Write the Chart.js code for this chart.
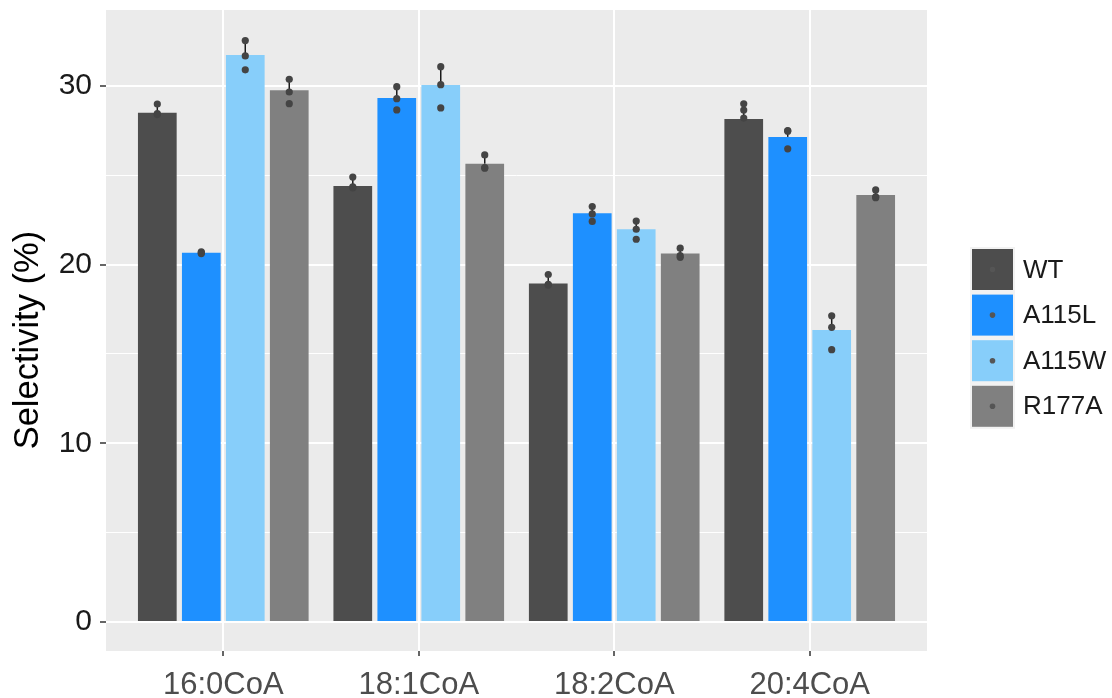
<!DOCTYPE html>
<html lang="en">
<head>
<meta charset="UTF-8">
<title>Selectivity</title>
<style>
  body {
    margin: 0;
    background: #fff;
  }
  #wrap {
    position: relative;
    width: 1112px;
    height: 698px;
  }
</style>
<script src="https://cdn.jsdelivr.net/npm/chart.js@4.4.1/dist/chart.umd.min.js"></script>
</head>
<body>
<div id="wrap">
  <canvas id="selChart" width="1112" height="698"></canvas>
</div>

<script>
// categories and groups
const categories = ['16:0CoA', '18:1CoA', '18:2CoA', '20:4CoA'];
const groups = ['WT', 'A115L', 'A115W', 'R177A'];
const colors = ['#4d4d4d', '#1e90ff', '#87cefa', '#808080'];

// bar heights (mean selectivity, %)
const wtMean    = [28.50, 24.40, 18.95, 28.15];
const a115lMean = [20.66, 29.33, 22.87, 27.15];
const a115wMean = [31.73, 30.05, 21.98, 16.34];
const r177aMean = [29.76, 25.65, 20.62, 23.90];

// error bar (upper part, sd)
const wtSd    = [0.49, 0.50, 0.50, 0.85];
const a115lSd = [0.06, 0.63, 0.38, 0.35];
const a115wSd = [0.81, 1.03, 0.46, 0.80];
const r177aSd = [0.61, 0.49, 0.30, 0.28];

// replicate points (WT ones inside the dark bar are hard to see)
const wtReps    = [[28.99, 28.45, 28.40], [24.90, 24.35, 24.30], [19.45, 18.90, 18.85], [29.00, 28.65, 28.20]];
const a115lReps = [[20.72, 20.66, 20.62], [29.96, 29.29, 28.66], [23.25, 22.84, 22.42], [27.50, 27.47, 26.48]];
const a115wReps = [[32.54, 31.68, 30.90], [31.08, 30.07, 28.77], [22.44, 21.98, 21.42], [17.14, 16.49, 15.24]];
const r177aReps = [[30.37, 29.66, 29.01], [26.14, 25.43, 25.40], [20.92, 20.41, 20.50], [24.18, 23.80, 23.75]];

// y axis ticks
const yMajor = [0, 10, 20, 30];
const yMinor = [5, 15, 25];

const means = [wtMean, a115lMean, a115wMean, r177aMean];
const sds = [wtSd, a115lSd, a115wSd, r177aSd];
const reps = [wtReps, a115lReps, a115wReps, r177aReps];

const FONT = "'Liberation Sans', Arial, sans-serif";

// grey panel behind the plot
const panelBg = {
  id: 'panelBg',
  beforeDraw(chart) {
    const a = chart.chartArea, ctx = chart.ctx;
    ctx.save();
    ctx.fillStyle = '#ebebeb';
    ctx.fillRect(a.left, a.top, a.right - a.left, a.bottom - a.top);
    ctx.restore();
  }
};

// error bars + replicate dots on top of the bars
const dotsAndErrors = {
  id: 'dotsAndErrors',
  afterDatasetsDraw(chart) {
    const ctx = chart.ctx, y = chart.scales.y;
    ctx.save();
    means.forEach((m, i) => {
      const meta = chart.getDatasetMeta(i);
      meta.data.forEach((bar, j) => {
        ctx.strokeStyle = '#1a1a1a';
        ctx.lineWidth = 1.5;
        ctx.beginPath();
        ctx.moveTo(bar.x, y.getPixelForValue(m[j]));
        ctx.lineTo(bar.x, y.getPixelForValue(m[j] + sds[i][j]));
        ctx.stroke();
        ctx.fillStyle = '#444';
        reps[i][j].forEach(v => {
          ctx.beginPath();
          ctx.arc(bar.x, y.getPixelForValue(v), 3.6, 0, Math.PI * 2);
          ctx.fill();
        });
      });
    });
    ctx.restore();
  }
};

// legend on the right, ggplot style
const sideLegend = {
  id: 'sideLegend',
  afterDraw(chart) {
    const ctx = chart.ctx;
    const x0 = 972, y0 = 249, size = 41, step = 45.6;
    ctx.save();
    ctx.fillStyle = '#f2f2f2';
    ctx.fillRect(x0 - 2, y0 - 2, size + 4, step * 3 + size + 4);
    chart.data.datasets.forEach((ds, i) => {
      const top = y0 + i * step;
      ctx.fillStyle = ds.backgroundColor;
      ctx.fillRect(x0, top, size, size);
      ctx.fillStyle = '#555';
      ctx.beginPath();
      ctx.arc(x0 + size / 2, top + size / 2, 2.8, 0, Math.PI * 2);
      ctx.fill();
      ctx.fillStyle = '#1a1a1a';
      ctx.font = '26px ' + FONT;
      ctx.textBaseline = 'middle';
      ctx.textAlign = 'left';
      ctx.fillText(ds.label, 1023, top + size / 2 + 1);
    });
    ctx.restore();
  }
};

const ctx = document.getElementById('selChart').getContext('2d');
new Chart(ctx, {
  type: 'bar',
  data: {
    datasets: groups.map((g, i) => ({
      label: g,
      data: means[i].map((v, j) => ({ x: j + 1, y: v })),
      backgroundColor: colors[i],
      borderWidth: 0,
      categoryPercentage: 0.9,
      barPercentage: 0.88
    }))
  },
  options: {
    responsive: false,
    animation: false,
    events: [],
    layout: { padding: { top: 10, right: 185, left: 0, bottom: 0 } },
    plugins: {
      legend: { display: false },
      tooltip: { enabled: false }
    },
    scales: {
      x: {
        type: 'linear',
        min: 0.4,
        max: 4.6,
        offset: false,
        afterBuildTicks: s => { s.ticks = categories.map((c, i) => ({ value: i + 1 })); },
        afterFit: s => { s.height = 47; s.paddingLeft = 0; s.paddingRight = 0; },
        ticks: {
          callback: v => categories[v - 1],
          font: { family: FONT, size: 31 },
          color: '#4d4d4d',
          padding: 11,
          maxRotation: 0,
          autoSkip: false
        },
        grid: {
          offset: false,
          color: '#ffffff',
          lineWidth: 2,
          tickColor: '#333',
          tickLength: 5,
          tickWidth: 1.5
        },
        border: { display: false }
      },
      y: {
        min: -1.62,
        max: 34.25,
        afterBuildTicks: s => {
          s.ticks = yMajor.concat(yMinor).sort((a, b) => a - b).map(v => ({ value: v }));
        },
        afterFit: s => { s.width = 106; s.paddingTop = 0; s.paddingBottom = 0; },
        ticks: {
          callback: v => (yMajor.includes(v) ? String(v) : ''),
          font: { family: FONT, size: 30 },
          color: '#1a1a1a',
          padding: 8
        },
        grid: {
          color: '#ffffff',
          lineWidth: c => (yMajor.includes(c.tick.value) ? 2 : 1),
          tickColor: c => (yMajor.includes(c.tick.value) ? '#333' : 'rgba(0,0,0,0)'),
          tickLength: 6,
          tickWidth: 1.5
        },
        border: { display: false },
        title: {
          display: true,
          text: 'Selectivity (%)  ',
          font: { family: FONT, size: 34.5 },
          color: '#000',
          padding: { top: 8, bottom: 0 }
        }
      }
    }
  },
  plugins: [panelBg, dotsAndErrors, sideLegend]
});
</script>
</body>
</html>
